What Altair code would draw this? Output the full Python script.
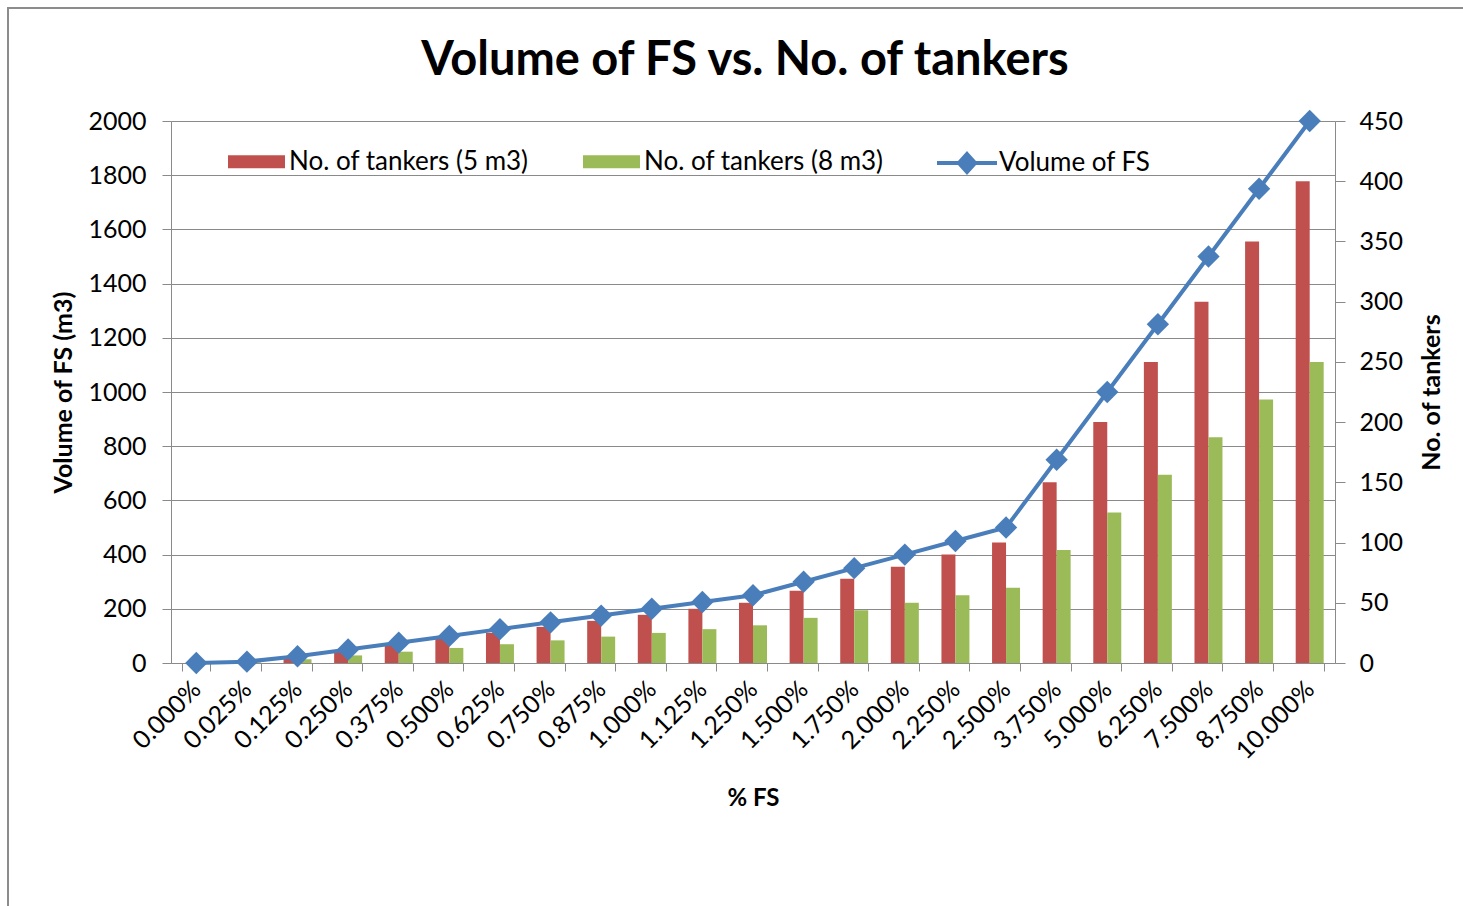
import altair as alt
import pandas as pd

# Share of faecal sludge (category axis)
pct_fs = ["0.000%", "0.025%", "0.125%", "0.250%", "0.375%", "0.500%", "0.625%",
          "0.750%", "0.875%", "1.000%", "1.125%", "1.250%", "1.500%", "1.750%",
          "2.000%", "2.250%", "2.500%", "3.750%", "5.000%", "6.250%", "7.500%",
          "8.750%", "10.000%"]

# Volume of FS in m3 (left axis)
volume_fs = [0, 5, 25, 50, 75, 100, 125, 150, 175, 200, 225, 250, 300, 350,
             400, 450, 500, 750, 1000, 1250, 1500, 1750, 2000]

# Number of tankers needed (right axis)
tankers_5m3 = [0, 1, 5, 10, 15, 20, 25, 30, 35, 40, 45, 50, 60, 70, 80, 90,
               100, 150, 200, 250, 300, 350, 400]
tankers_8m3 = [0, 0.6, 3.1, 6.3, 9.4, 12.5, 15.6, 18.8, 21.9, 25, 28.1, 31.3,
               37.5, 43.8, 50, 56.3, 62.5, 93.8, 125, 156.3, 187.5, 218.8, 250]

series_names = ["No. of tankers (5 m3)", "No. of tankers (8 m3)"]
line_name = "Volume of FS"

RED = "#C0504D"
GREEN = "#9BBB59"
BLUE = "#4A7EBB"
GRAY = "#8A8A8A"
FONT = "Lato"

bars_df = pd.DataFrame(
    [{"pct": p, "series": series_names[0], "tankers": a} for p, a in zip(pct_fs, tankers_5m3)]
    + [{"pct": p, "series": series_names[1], "tankers": b} for p, b in zip(pct_fs, tankers_8m3)]
)
line_df = pd.DataFrame({"pct": pct_fs, "volume": volume_fs, "name": line_name})

W, H = 1164, 542
PAD_L, PAD_T = 171, 121

x_enc = alt.X(
    "pct:N", sort=pct_fs,
    scale=alt.Scale(paddingInner=0.447, paddingOuter=0.2235),
    axis=alt.Axis(
        title="% FS", labelAngle=-45, labelAlign="right", labelBaseline="middle",
        labelFontSize=25, labelPadding=14, tickSize=8, tickBand="extent",
        domainColor=GRAY, tickColor=GRAY, titleFontSize=24, titleFontWeight="bold",
        titlePadding=23, grid=False,
    ),
)

# Chart-area frame
frame = alt.Chart(alt.Data(values=[{"k": 1}])).mark_rect(
    fill=None, stroke="#8C8C8C", strokeWidth=2
).encode(
    x=alt.value(8 - PAD_L), x2=alt.value(1463 - PAD_L + 10),
    y=alt.value(8 - PAD_T), y2=alt.value(906 - PAD_T + 10),
)

bars = alt.Chart(bars_df).mark_bar().encode(
    x=x_enc,
    xOffset=alt.XOffset("series:N", sort=series_names,
                        scale=alt.Scale(paddingInner=0, paddingOuter=0)),
    y=alt.Y(
        "tankers:Q",
        scale=alt.Scale(domain=[0, 450], nice=False),
        axis=alt.Axis(
            orient="right", title="No. of tankers", values=list(range(0, 451, 50)),
            labelFontSize=25, labelPadding=14, tickSize=10, grid=False,
            domainColor=GRAY, tickColor=GRAY, titleFontSize=25,
            titleFontWeight="bold", titleAngle=-90, titleBaseline="top",
            titlePadding=17,
        ),
    ),
    fill=alt.Fill(
        "series:N",
        scale=alt.Scale(domain=series_names, range=[RED, GREEN]),
        legend=alt.Legend(
            title=None, orient="none", legendX=57, legendY=12,
            direction="horizontal", symbolType="M-1,-0.23H1V0.23H-1Z",
            symbolSize=3249, symbolStrokeWidth=0, labelFontSize=26,
            labelOffset=4, columnPadding=54,
        ),
    ),
)

volume_y = alt.Y(
    "volume:Q",
    scale=alt.Scale(domain=[0, 2000], nice=False),
    axis=alt.Axis(
        orient="left", title="Volume of FS (m3)",
        values=list(range(0, 2001, 200)), format="d",
        labelFontSize=25, labelPadding=16, tickSize=9, grid=True,
        gridColor=GRAY, gridWidth=1, domainColor=GRAY, tickColor=GRAY,
        titleFontSize=25, titleFontWeight="bold", titlePadding=11,
    ),
)

line = alt.Chart(line_df).mark_line(color=BLUE, strokeWidth=4).encode(
    x=alt.X("pct:N", sort=pct_fs),
    y=volume_y,
)

points = alt.Chart(line_df).mark_point(
    shape="diamond", size=500, filled=True, opacity=1
).encode(
    x=alt.X("pct:N", sort=pct_fs),
    y=volume_y,
    color=alt.Color(
        "name:N",
        scale=alt.Scale(domain=[line_name], range=[BLUE]),
        legend=alt.Legend(
            title=None, orient="none", legendX=764, legendY=10,
            symbolType="M-1,0H1M0,-0.3L0.27,0L0,0.3L-0.27,0Z",
            symbolSize=3600, symbolStrokeWidth=4, symbolStrokeColor=BLUE,
            labelFontSize=26, labelOffset=0,
        ),
    ),
)

volume_layer = alt.layer(line, points)

chart = (
    alt.layer(frame, bars, volume_layer)
    .resolve_scale(y="independent", color="independent", fill="independent")
    .properties(
        width=W, height=H,
        autosize=alt.AutoSizeParams(type="none"),
        padding={"left": PAD_L, "top": PAD_T, "right": 1463 - PAD_L - W,
                 "bottom": 906 - PAD_T - H},
        title=alt.TitleParams(
            "Volume of FS vs. No. of tankers", fontSize=47, fontWeight="bold",
            font=FONT, color="black", anchor="middle", dx=-8, offset=0, dy=78,
        ),
    )
    .configure(font=FONT, background="white")
    .configure_view(stroke=None)
    .configure_axis(labelColor="black", titleColor="black", labelFont=FONT,
                    titleFont=FONT)
    .configure_legend(labelColor="black", labelFont=FONT, labelLimit=0)
)

chart.save("out.html", embed_options={"renderer": "svg", "actions": False})
